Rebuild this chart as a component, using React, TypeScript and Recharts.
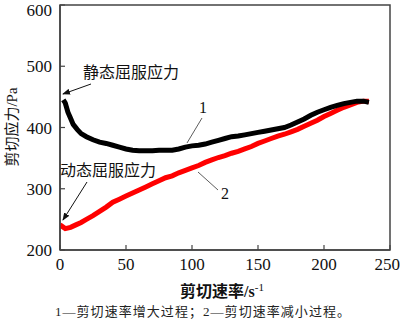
import { LineChart, Line, XAxis, YAxis, ReferenceArea } from "recharts";

// curve 1: shear rate increasing (black)
const upRate = [2.5, 4, 6, 8, 10, 13, 16, 20, 25, 30, 35, 40, 45, 50, 55, 60, 65, 70, 75, 80, 85, 90, 95, 100, 105, 110, 115, 120, 125, 130, 135, 140, 145, 150, 155, 160, 165, 170, 175, 180, 185, 190, 195, 200, 205, 210, 215, 220, 225, 230, 234];
const upStress = [445, 440, 425, 415, 405, 397, 390, 385, 380, 376, 374, 371, 368, 365, 363, 362, 362, 362, 363, 363, 363, 365, 368, 370, 371, 373, 376, 379, 382, 385, 386, 388, 390, 392, 394, 396, 398, 400, 404, 409, 414, 420, 425, 429, 433, 436, 439, 441, 443, 443, 441];

// curve 2: shear rate decreasing (red)
const downRate = [0, 4, 8, 12, 16, 20, 25, 30, 35, 40, 45, 50, 55, 60, 65, 70, 75, 80, 85, 90, 95, 100, 105, 110, 115, 120, 125, 130, 135, 140, 145, 150, 155, 160, 165, 170, 175, 180, 185, 190, 195, 200, 205, 210, 215, 220, 225, 230, 234];
const downStress = [241, 235, 237, 241, 245, 250, 256, 263, 270, 278, 283, 288, 293, 298, 303, 308, 313, 318, 321, 326, 330, 334, 338, 343, 347, 351, 354, 358, 361, 365, 369, 374, 378, 382, 386, 389, 393, 397, 402, 407, 412, 418, 423, 428, 433, 437, 441, 443, 443];

const xTicks = [0, 50, 100, 150, 200, 250];
const yTicks = [200, 300, 400, 500, 600];

const upData = upRate.map((x, i) => ({ x, y: upStress[i] }));
const downData = downRate.map((x, i) => ({ x, y: downStress[i] }));

const serif = '"Liberation Serif", "Times New Roman", serif';
const cjk = '"Liberation Serif", "Noto Sans CJK SC", serif';
const axisColor = "#444";

export default function App() {
  return (
    <div style={{ position: "absolute", left: 0, top: 0, width: 400, height: 326, background: "#fff" }}>
      <LineChart width={400} height={326} margin={{ top: 5, right: 10, bottom: 46, left: 0 }}>
        <XAxis
          type="number"
          dataKey="x"
          domain={[0, 250]}
          ticks={xTicks}
          allowDataOverflow
          height={30}
          tickSize={-5}
          tickMargin={13}
          axisLine={{ stroke: axisColor, strokeWidth: 1.5 }}
          tickLine={{ stroke: axisColor, strokeWidth: 1.2 }}
          tick={{ fontSize: 17, fill: "#111", fontFamily: serif }}
        />
        <YAxis
          type="number"
          dataKey="y"
          domain={[200, 600]}
          ticks={yTicks}
          allowDataOverflow
          width={60}
          tickSize={-5}
          tickMargin={13}
          axisLine={{ stroke: axisColor, strokeWidth: 1.5 }}
          tickLine={{ stroke: axisColor, strokeWidth: 1.2 }}
          tick={{ fontSize: 17, fill: "#111", fontFamily: serif }}
        />
        <ReferenceArea x1={0} x2={250} y1={200} y2={600} fill="none" stroke={axisColor} strokeWidth={1.5} ifOverflow="visible" />
        <Line data={downData} dataKey="y" type="linear" stroke="#ff0000" strokeWidth={5} dot={false} isAnimationActive={false} />
        <Line data={upData} dataKey="y" type="linear" stroke="#000" strokeWidth={5} strokeLinejoin="miter" dot={false} isAnimationActive={false} />
      </LineChart>
      <svg width={400} height={326} style={{ position: "absolute", left: 0, top: 0, pointerEvents: "none" }}>
        <defs>
          <marker id="ah" markerWidth="8" markerHeight="6" refX="7" refY="3" orient="auto" markerUnits="userSpaceOnUse">
            <path d="M0,0 L8,3 L0,6 Z" fill="#111" />
          </marker>
        </defs>
        <text x={83} y={78} fontSize={16} fontFamily={cjk} fill="#111">静态屈服应力</text>
        <line x1={91} y1={84} x2={63} y2={94} stroke="#111" strokeWidth={1} markerEnd="url(#ah)" />
        <text x={60} y={176} fontSize={16} fontFamily={cjk} fill="#111">动态屈服应力</text>
        <line x1={87} y1={182} x2={63} y2={220} stroke="#111" strokeWidth={1} markerEnd="url(#ah)" />
        <text x={203} y={113} fontSize={16} fontFamily={serif} textAnchor="middle" fill="#111">1</text>
        <line x1={202} y1={118} x2={187} y2={143} stroke="#333" strokeWidth={0.8} />
        <text x={225} y={199} fontSize={16} fontFamily={serif} textAnchor="middle" fill="#111">2</text>
        <line x1={198} y1={172} x2={218} y2={190} stroke="#333" strokeWidth={0.8} />
        <text
          x={0}
          y={0}
          transform="translate(17,127) rotate(-90)"
          fontSize={15}
          fontFamily={cjk}
          textAnchor="middle"
          fill="#111"
        >
          剪切应力/Pa
        </text>
        <text x={222} y={297} fontSize={16} fontFamily={cjk} fontWeight="bold" textAnchor="middle" fill="#111">
          剪切速率/s<tspan dy={-6} fontSize={11} fontWeight="normal">-1</tspan>
        </text>
        <text x={55} y={316} fontSize={13} fontFamily={cjk} fill="#222" textLength={295}>
          1—剪切速率增大过程；2—剪切速率减小过程。
        </text>
      </svg>
    </div>
  );
}
